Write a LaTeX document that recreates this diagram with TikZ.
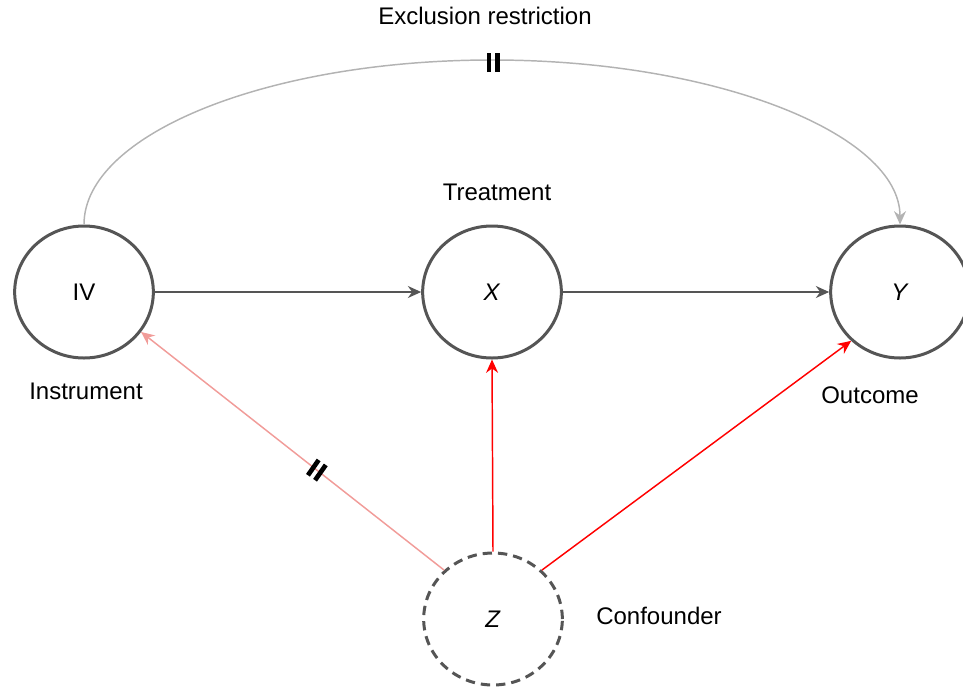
\documentclass[tikz,border=0pt]{standalone}
\usepackage{fontspec}
\setmainfont{Liberation Sans}
\usetikzlibrary{shapes.geometric, arrows.meta}
\definecolor{nodegray}{RGB}{85,85,85}
\definecolor{exclgray}{RGB}{179,179,179}
\definecolor{confred}{RGB}{255,0,0}
\definecolor{ivpink}{RGB}{241,156,153}
\tikzstyle{var} = [ellipse, draw=nodegray, line width=2.25pt, minimum width=104pt, minimum height=99pt, inner sep=0pt]
\tikzstyle{arrow} = [line width=1.1pt, -{Stealth[length=10pt,width=9pt]}]
\tikzstyle{cut} = [inner sep=0pt, fill=none]
\newcommand{\cutbars}{\rule[-7pt]{3.5pt}{14pt}\hspace{3pt}\rule[-7pt]{3.5pt}{14pt}}

\begin{document}
\begin{tikzpicture}[x=0.75pt,y=0.75pt,yscale=-1,xscale=1,font=\fontsize{18}{22}\selectfont]
\useasboundingbox (0,0) rectangle (963,689);

% variables
\node[var] (iv) at (84,292) {IV};
\node[var] (x) at (492,292) {\textit{X}};
\node[var] (y) at (900,292) {\textit{Y}};
\node[var, dash pattern=on 7pt off 4.5pt] (z) at (493,619) {\textit{Z}};

% labels
\node (exclabel) at (485,16) {Exclusion restriction};
\node (treatlabel) at (497,192) {Treatment};
\node (instrlabel) at (86,391) {Instrument};
\node (outlabel) at (870,395) {Outcome};
\node (conflabel) at (659,616) {Confounder};
\coordinate (excltop) at (492,60);

% causal paths
\draw[arrow, draw=nodegray] (iv) -- (x);
\draw[arrow, draw=nodegray] (x) -- (y);
\draw[arrow, draw=confred] (z.north) -- (x.south);
\draw[arrow, draw=confred] (z.45) -- (y.225);
\draw[arrow, draw=ivpink] (z.135) -- node[cut, rotate=-35, pos=0.42] (ivtick) {\cutbars} (iv.-35);

% exclusion restriction
\draw[arrow, draw=exclgray] (iv.north) .. controls +(0,-90) and +(-225,0) .. (excltop) .. controls +(225,0) and +(0,-90) .. (y.north);
\node[cut] (excltick) at ([xshift=1pt,yshift=2pt]excltop) {\cutbars};

\end{tikzpicture}
\end{document}
